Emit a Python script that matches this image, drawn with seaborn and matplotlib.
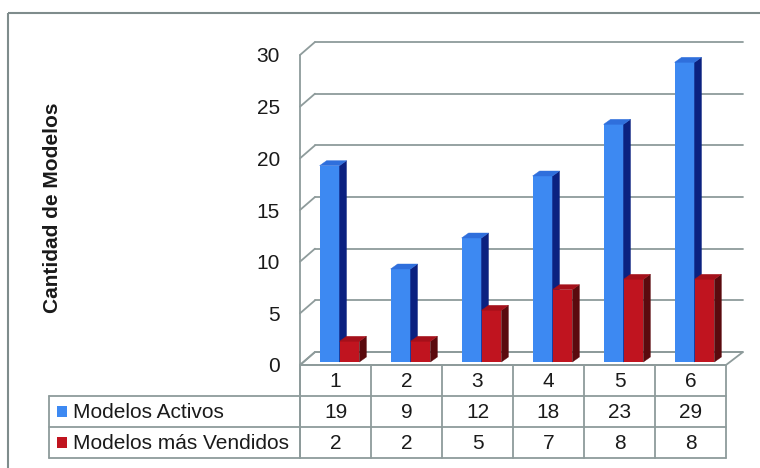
import matplotlib
matplotlib.use("Agg")
import matplotlib.pyplot as plt
import matplotlib.colors as mcolors
from matplotlib.patches import Polygon, Rectangle
import pandas as pd
import seaborn as sns

# ---- data ----
categorias = ["1", "2", "3", "4", "5", "6"]
series = ["Modelos Activos", "Modelos más Vendidos"]
activos = [19, 9, 12, 18, 23, 29]
vendidos = [2, 2, 5, 7, 8, 8]
y_ticks = [0, 5, 10, 15, 20, 25, 30]
y_label = "Cantidad de Modelos"

# ---- style ----
sns.set_theme(style="white")
plt.rcParams["font.family"] = ["Liberation Sans", "DejaVu Sans"]

BLUE, BLUE_TOP, BLUE_SIDE = "#3d89f2", "#2f6fdc", "#0b2180"
RED, RED_TOP, RED_SIDE = "#c0141f", "#a5101a", "#5a0a0e"
GRID = "#8e9b9b"
TEXT = "#1a1a1a"
FS = 15

# ---- layout (pixels, origin top-left) ----
W, H = 760, 468
AX_L, AX_R = 304, 730          # bar plane, horizontal extent
AX_Y0, AX_Y30 = 362, 52        # bar plane, pixel rows of value 0 and 30
PX_X = (AX_R - AX_L) / len(categorias)
PX_Y = (AX_Y0 - AX_Y30) / 30.0
FRONT = (-4, -3)               # front plane offset from bar plane (px, up positive)
BACK_L = (11, 10)              # back wall offset, left side
BACK_R = (13, 10)              # back wall offset, right side
DEPTH = (7, 5)                 # bar depth (px)

fig = plt.figure(figsize=(W / 100, H / 100), dpi=100)
fig.patch.set_facecolor("white")

canvas = fig.add_axes([0, 0, 1, 1], zorder=0)
canvas.set_xlim(0, W)
canvas.set_ylim(H, 0)
canvas.axis("off")

ax = fig.add_axes([AX_L / W, (H - AX_Y0) / H, (AX_R - AX_L) / W, (AX_Y0 - AX_Y30) / H],
                  zorder=1)
ax.patch.set_alpha(0)


def dx(px):
    return px / PX_X


def dy(px):
    return px / PX_Y


# outer chart frame
canvas.add_patch(Rectangle((8, 13), W, H, fill=False, edgecolor="#7f8c8c", lw=1.5))

# bars
df = pd.DataFrame({
    "cat": categorias * 2,
    "serie": [series[0]] * len(categorias) + [series[1]] * len(categorias),
    "valor": activos + vendidos,
})
sns.barplot(data=df, x="cat", y="valor", hue="serie", order=categorias, hue_order=series,
            palette=[BLUE, RED], width=0.56, saturation=1, errorbar=None, legend=False,
            linewidth=0, ax=ax)

blue_rgba = mcolors.to_rgba(BLUE)
bars = [p for p in ax.patches if isinstance(p, Rectangle)]
for p in bars:
    is_blue = all(abs(a - b) < 0.02 for a, b in zip(p.get_facecolor(), blue_rgba))
    z = 2 if is_blue else 4
    top_c = BLUE_TOP if is_blue else RED_TOP
    side_c = BLUE_SIDE if is_blue else RED_SIDE
    x0, w, h = p.get_x(), p.get_width(), p.get_height()
    x1 = x0 + w
    ddx, ddy = dx(DEPTH[0]), dy(DEPTH[1])
    p.set_zorder(z)
    ax.add_patch(Polygon([(x1, 0), (x1 + ddx, ddy), (x1 + ddx, h + ddy), (x1, h)],
                         closed=True, facecolor=side_c, edgecolor=side_c, lw=0.3,
                         zorder=z + 0.1, clip_on=False))
    ax.add_patch(Polygon([(x0, h), (x1, h), (x1 + ddx, h + ddy), (x0 + ddx, h + ddy)],
                         closed=True, facecolor=top_c, edgecolor=top_c, lw=0.3,
                         zorder=z + 0.1, clip_on=False))

# back wall gridlines and side-wall diagonals
x_left, x_right = -0.5, len(categorias) - 0.5
for v in y_ticks:
    ax.plot([x_left + dx(BACK_L[0]), x_right + dx(BACK_R[0])], [v + dy(BACK_L[1])] * 2,
            color=GRID, lw=1.3, zorder=0.5, clip_on=False)
    ax.plot([x_left + dx(FRONT[0]), x_left + dx(BACK_L[0])],
            [v + dy(FRONT[1]), v + dy(BACK_L[1])],
            color=GRID, lw=1.3, zorder=0.5, clip_on=False)

# floor outline
floor = [(x_left + dx(FRONT[0]), dy(FRONT[1])), (x_right + dx(FRONT[0]), dy(FRONT[1])),
         (x_right + dx(BACK_R[0]), dy(BACK_R[1])), (x_left + dx(BACK_L[0]), dy(BACK_L[1]))]
ax.add_patch(Polygon(floor, closed=True, fill=False, edgecolor=GRID, lw=1.3,
                     zorder=0.6, clip_on=False))

ax.set_xlim(x_left, x_right)
ax.set_ylim(0, 30)
ax.set_xticks([])
ax.set_xlabel("")
ax.set_ylabel("")
ax.set_yticks(y_ticks)
ax.set_yticklabels([str(v) for v in y_ticks])
ax.tick_params(axis="y", length=0, pad=17.3, labelsize=FS, labelcolor=TEXT)
for lab in ax.get_yticklabels():
    lab.set_transform(lab.get_transform() +
                      matplotlib.transforms.ScaledTranslation(0, -3 / 100, fig.dpi_scale_trans))
for s in ax.spines.values():
    s.set_visible(False)

# y axis title
canvas.text(53, 208, y_label, rotation=90, ha="center", va="center",
            fontsize=FS, fontweight="bold", color=TEXT)

# ---- data table under the plot ----
col_edges = [AX_L + FRONT[0] + PX_X * i for i in range(len(categorias) + 1)]
row_edges = [AX_Y0 - FRONT[1], 396, 427, 458]
LEG_L = 49
TLINE = dict(color=GRID, lw=1.3, zorder=1)

# front axis line, continued through the table
canvas.plot([col_edges[0], col_edges[0]], [AX_Y30 - FRONT[1], row_edges[-1]], **TLINE)
canvas.plot([col_edges[0], col_edges[-1]], [row_edges[0]] * 2, **TLINE)
for yr in row_edges[1:]:
    canvas.plot([LEG_L, col_edges[-1]], [yr, yr], **TLINE)
for xc in col_edges:
    canvas.plot([xc, xc], [row_edges[0], row_edges[-1]], **TLINE)
canvas.plot([LEG_L, LEG_L], [row_edges[1], row_edges[-1]], **TLINE)


def row_mid(r):
    return (row_edges[r] + row_edges[r + 1]) / 2 + 1


for i, c in enumerate(categorias):
    xm = (col_edges[i] + col_edges[i + 1]) / 2
    canvas.text(xm, row_mid(0), c, ha="center", va="center", fontsize=FS, color=TEXT)
    canvas.text(xm, row_mid(1), str(activos[i]), ha="center", va="center",
                fontsize=FS, color=TEXT)
    canvas.text(xm, row_mid(2), str(vendidos[i]), ha="center", va="center",
                fontsize=FS, color=TEXT)

for r, (name, col) in enumerate(zip(series, [BLUE, RED]), start=1):
    ym = row_mid(r) - 1
    canvas.add_patch(Rectangle((57, ym - 5.5), 10, 11, facecolor=col, edgecolor="none"))
    canvas.text(73, ym + 1, name, ha="left", va="center", fontsize=FS, color=TEXT)

fig.savefig("out.png", dpi=100, facecolor="white")
